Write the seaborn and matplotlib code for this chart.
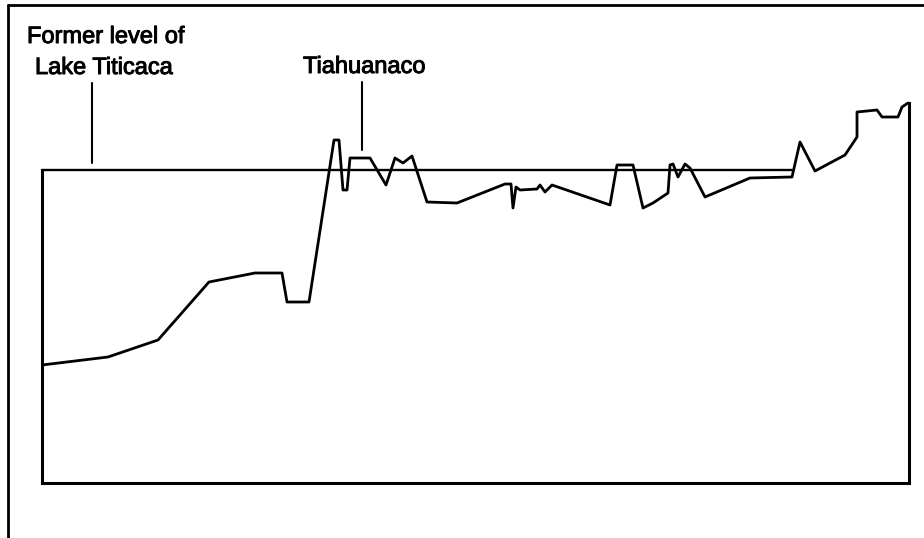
import matplotlib
matplotlib.use("Agg")
import matplotlib.pyplot as plt
import matplotlib.patheffects as pe
import seaborn as sns
import pandas as pd
from matplotlib.lines import Line2D

# Profile across the altiplano (relative distance, relative elevation)
distance = [0, 66, 116, 167, 213, 240, 245, 267, 292, 297, 301, 305, 308, 328, 344, 353,
            361, 370, 385, 415, 463, 469, 471, 474, 478, 495, 498, 503, 510, 568, 575,
            591, 601, 611, 626, 628, 631, 636, 643, 648, 663, 708, 750, 758, 773, 803,
            815, 815, 835, 840, 856, 860, 866]
elevation = [118, 126, 143, 201, 210, 210, 181, 181, 343, 343, 293, 293, 325, 325, 298,
             325, 320, 327, 281, 280, 299, 299, 275, 296, 293, 294, 298, 291, 298, 278,
             318, 318, 275, 280, 290, 318, 319, 306, 319, 315, 286, 305, 306, 341, 312,
             328, 346, 371, 373, 366, 366, 376, 380]

lake_level = 313          # former level of Lake Titicaca
x_min, x_max = 0, 867
lake_end = 750
tiahuanaco_x = 320

sns.set_style("white")
plt.rcParams['font.family'] = ['Liberation Sans', 'DejaVu Sans']

fig = plt.figure(figsize=(9.24, 5.38), dpi=100)
ax = fig.add_axes([42/924, 55/538, 867/924, 393/538])

df = pd.DataFrame({"distance": distance, "elevation": elevation})
sns.lineplot(data=df, x="distance", y="elevation", sort=False, color="black",
             linewidth=2.0, ax=ax, estimator=None)

# Box / lake level frame
frame_kw = dict(color="black", lw=2.2, clip_on=False, solid_capstyle="projecting")
ax.plot([x_min, x_min], [0, lake_level], **frame_kw)
ax.plot([x_min, x_max], [0, 0], **frame_kw)
ax.plot([x_max, x_max], [0, elevation[-1]], **frame_kw)
ax.plot([x_min, lake_end], [lake_level, lake_level], color="black", lw=1.7, clip_on=False)

# Leader lines
ax.plot([50, 50], [320, 400], color="black", lw=1.5, clip_on=False)
ax.plot([tiahuanaco_x, tiahuanaco_x], [333, 401], color="black", lw=1.5, clip_on=False)

txt_kw = dict(fontsize=17, va="baseline", ha="left", color="black", clip_on=False,
              path_effects=[pe.withStroke(linewidth=0.7, foreground="black")])
ax.text(-15, 440, "Former level of", **txt_kw)
ax.text(-7, 409, "Lake Titicaca", **txt_kw)
ax.text(261, 410, "Tiahuanaco", **txt_kw)

ax.set_xlim(x_min, x_max)
ax.set_ylim(0, 393)
ax.axis("off")

# Outer figure frame (left and top edges)
fig.add_artist(Line2D([8/924, 8/924], [0, 1 - 5/538], color="black", lw=2.0,
                      transform=fig.transFigure))
fig.add_artist(Line2D([8/924, 1], [1 - 5/538, 1 - 5/538], color="black", lw=2.0,
                      transform=fig.transFigure))

fig.savefig("out.png", dpi=100)
